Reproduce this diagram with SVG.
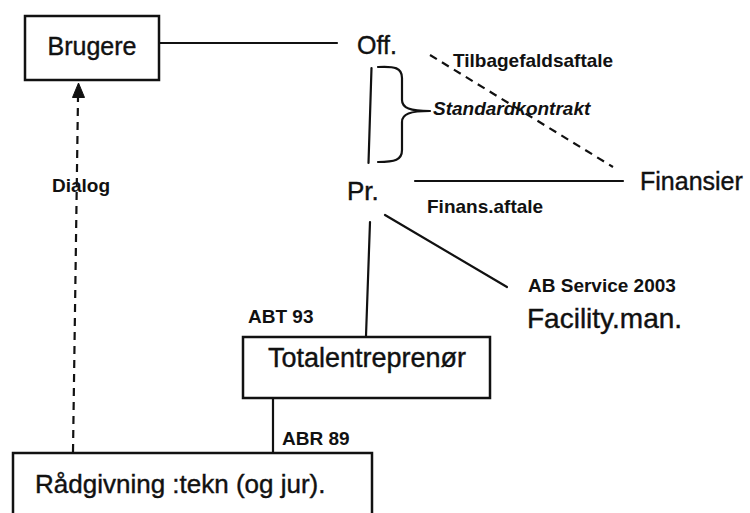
<svg xmlns="http://www.w3.org/2000/svg" width="750" height="513" viewBox="0 0 750 513">
  <style>
    .box { fill: #ffffff; stroke: #111111; stroke-width: 2.5; }
    .line { fill: none; stroke: #111111; stroke-width: 2.2; stroke-linecap: round; }
    .dash { fill: none; stroke: #111111; stroke-width: 2.2; stroke-dasharray: 8 6; }
    .head { fill: #111111; stroke: #111111; stroke-width: 1; stroke-linejoin: round; }
    .big { font-family: "Liberation Sans", Arial, sans-serif; fill: #111111; stroke: #111111; stroke-width: 0.4; }
    .small { font-family: "Liberation Sans", Arial, sans-serif; font-weight: bold; font-size: 19px; fill: #111111; }
  </style>

  <!-- connectors -->
  <g id="connectors">
    <line class="line" x1="159" y1="43" x2="337" y2="43"/>
    <line class="line" x1="371.5" y1="68" x2="368.5" y2="163"/>
    <path class="line" d="M378,67 C395,66 402,68 402,78 L402,100 C402,108 410,111 430,111 M430,111 C410,111 402,114 402,122 L402,150 C402,160 395,162 378,162"/>
    <line class="dash" x1="430" y1="55" x2="613" y2="167"/>
    <line class="line" x1="415" y1="181" x2="623" y2="181"/>
    <line class="line" x1="385" y1="215" x2="507" y2="287"/>
    <line class="line" x1="370" y1="222" x2="366" y2="336"/>
    <line class="line" x1="273" y1="398" x2="273" y2="453"/>
    <!-- Dialog: dashed arrow up to Brugere -->
    <line class="dash" x1="73" y1="452" x2="78" y2="98"/>
    <polygon class="head" points="78.5,83 72.5,97.5 84.5,97.5"/>
  </g>

  <!-- labels on connectors -->
  <g id="labels">
    <text class="small" x="453" y="67">Tilbagefaldsaftale</text>
    <text class="small" x="433" y="115" font-style="italic">Standardkontrakt</text>
    <text class="small" x="427" y="213">Finans.aftale</text>
    <text class="small" x="528" y="292">AB Service 2003</text>
    <text class="small" x="248" y="323">ABT 93</text>
    <text class="small" x="282" y="445">ABR 89</text>
    <text class="small" x="52" y="192" font-size="18.5">Dialog</text>
  </g>

  <g id="brugere">
    <rect class="box" x="25" y="16" width="134" height="64"/>
    <text class="big" x="92" y="55" font-size="25" text-anchor="middle">Brugere</text>
  </g>

  <g id="off">
    <text class="big" x="357" y="54" font-size="25">Off.</text>
  </g>

  <g id="pr">
    <text class="big" x="347" y="200" font-size="26">Pr.</text>
  </g>

  <g id="finansier">
    <text class="big" x="640" y="190" font-size="25">Finansier</text>
  </g>

  <g id="facility">
    <text class="big" x="527" y="328" font-size="28">Facility.man.</text>
  </g>

  <g id="totalentreprenor">
    <rect class="box" x="243" y="337" width="247" height="61"/>
    <text class="big" x="268" y="367" font-size="27">Totalentreprenør</text>
  </g>

  <g id="raadgivning">
    <rect class="box" x="13" y="453" width="359" height="80"/>
    <text class="big" x="35" y="493" font-size="26">Rådgivning :tekn (og jur).</text>
  </g>
</svg>
